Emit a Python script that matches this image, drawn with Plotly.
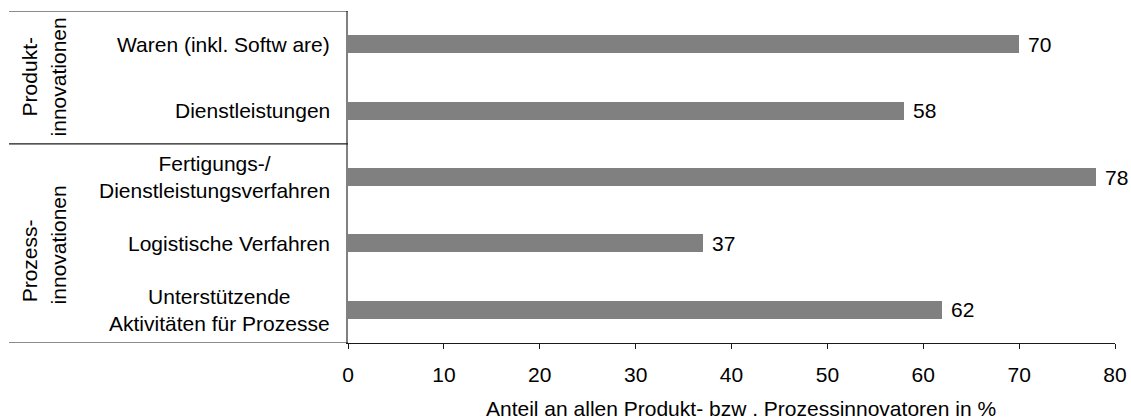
import plotly.graph_objects as go

categories = [
    "Waren (inkl. Softw are)",
    "Dienstleistungen",
    "Fertigungs-/<br>Dienstleistungsverfahren",
    "Logistische Verfahren",
    "Unterstützende<br>Aktivitäten für Prozesse",
]
values = [70, 58, 78, 37, 62]
value_labels = ["70", "58", "78", "37", "62"]
x_ticks = [0, 10, 20, 30, 40, 50, 60, 70, 80]
x_title = "Anteil an allen Produkt- bzw . Prozessinnovatoren in %"
groups = [("Produkt-", "innovationen"), ("Prozess-", "innovationen")]

FONT = "Liberation Sans, Arial, sans-serif"
FS = 21
W, H = 1131, 419
L, R, T, B = 348, 16, 11, 76

idx = list(range(len(categories)))

fig = go.Figure()
fig.add_trace(go.Bar(
    x=values, y=idx, orientation="h", width=0.27,
    marker=dict(color="#808080", line=dict(width=0)),
    hoverinfo="skip", showlegend=False,
))

annotations = []
# value labels
for i, (v, lab) in enumerate(zip(values, value_labels)):
    annotations.append(dict(x=v, y=i, xref="x", yref="y", text=lab, showarrow=False,
                            xanchor="left", yanchor="middle", xshift=7,
                            font=dict(family=FONT, size=FS, color="black")))
# category labels
for i, c in enumerate(categories):
    annotations.append(dict(x=0, y=i, xref="paper", yref="y", text=c, showarrow=False,
                            xanchor="right", yanchor="middle", xshift=-16, align="center",
                            font=dict(family=FONT, size=FS, color="black")))
# group labels (rotated)
group_pos = [(0.5, 0.5), (3.27, 3.03)]
for (l1, l2), (y1, y2) in zip(groups, group_pos):
    annotations.append(dict(x=0, y=y1, xref="paper", yref="y", text=l1, showarrow=False,
                            textangle=-90, xanchor="center", yanchor="middle", xshift=29 - L,
                            font=dict(family=FONT, size=FS, color="black")))
    annotations.append(dict(x=0, y=y2, xref="paper", yref="y", text=l2, showarrow=False,
                            textangle=-90, xanchor="center", yanchor="middle", xshift=58 - L,
                            font=dict(family=FONT, size=FS, color="black")))
# x-axis title
annotations.append(dict(x=(741 - L) / (W - L - R), y=(H - B - 408) / (H - T - B), xref="paper", yref="paper",
                        text=x_title, showarrow=False, xanchor="center", yanchor="middle",
                        font=dict(family=FONT, size=FS, color="black")))

x_left = (9 - L) / (W - L - R)
shapes = [
    dict(type="line", xref="paper", yref="y", x0=x_left, x1=0, y0=-0.5, y1=-0.5,
         line=dict(color="#1a1a1a", width=1.2)),
    dict(type="line", xref="paper", yref="y", x0=x_left, x1=0, y0=1.5, y1=1.5,
         line=dict(color="#1a1a1a", width=1.2)),
    dict(type="line", xref="paper", yref="y", x0=x_left, x1=0, y0=4.5, y1=4.5,
         line=dict(color="#1a1a1a", width=1.2)),
]

fig.update_layout(
    width=W, height=H,
    margin=dict(l=L, r=R, t=T, b=B, pad=0, autoexpand=False),
    paper_bgcolor="white", plot_bgcolor="white",
    font=dict(family=FONT, size=FS, color="black"),
    annotations=annotations, shapes=shapes,
    bargap=0,
    xaxis=dict(range=[0, 80], tickvals=x_ticks, ticktext=[str(t) for t in x_ticks],
               automargin=False,
               showgrid=False, zeroline=False, showline=True, linecolor="#1a1a1a", linewidth=1.2,
               ticks="outside", ticklen=5, tickcolor="#1a1a1a", tickwidth=1.2,
               tickfont=dict(family=FONT, size=FS, color="black"), ticklabelstandoff=8),
    yaxis=dict(range=[4.5, -0.5], showticklabels=False, showgrid=False, zeroline=False,
               automargin=False,
               showline=True, linecolor="#808080", linewidth=1.5, ticks=""),
)
fig.update_traces(cliponaxis=False)

fig.write_html("out.html", config={"displayModeBar": False},
               post_script="document.body.style.margin='0';document.body.style.overflow='hidden';")
